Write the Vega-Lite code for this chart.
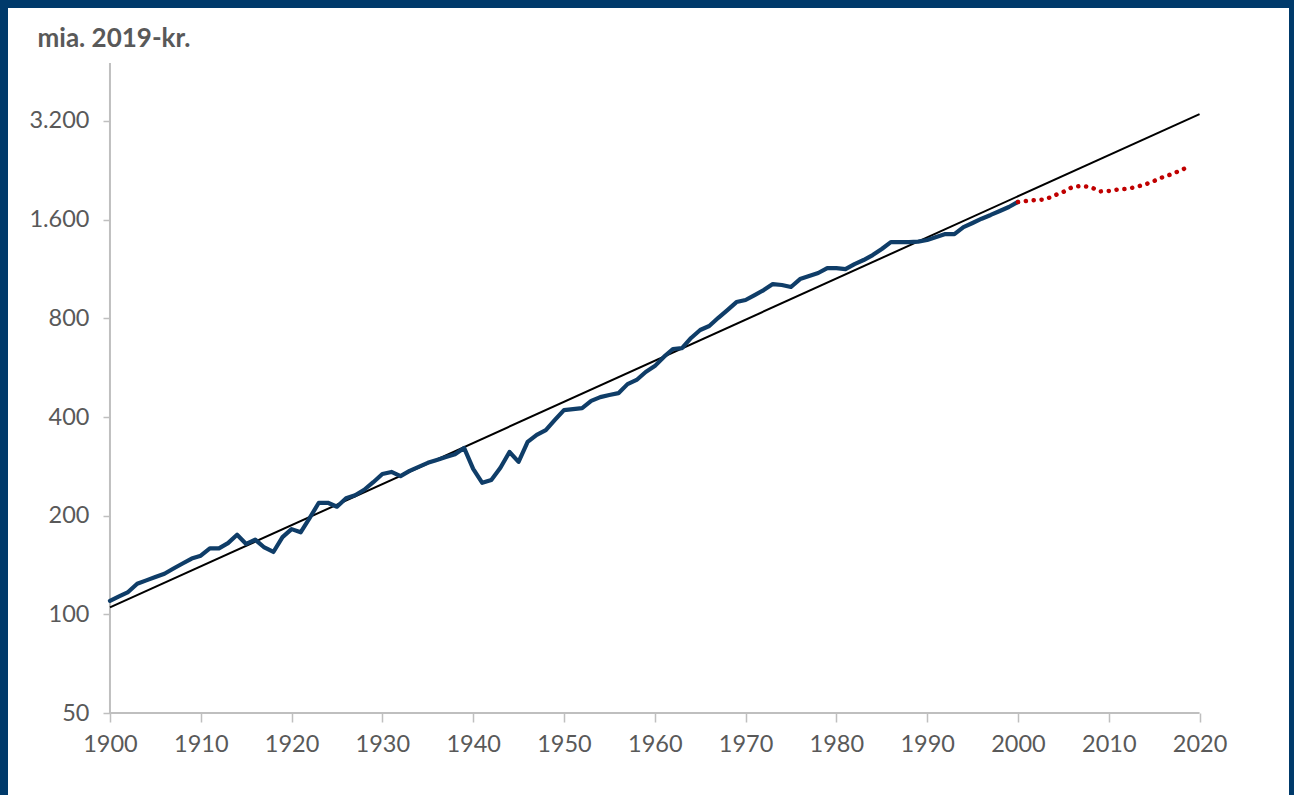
{
  "$schema": "https://vega.github.io/schema/vega-lite/v6.json",
  "width": 1281,
  "height": 787,
  "autosize": "none",
  "padding": {"left": 8, "top": 8, "right": 5, "bottom": 0},
  "background": "#003a6b",
  "config": {
    "font": "Lato",
    "view": {"fill": "white", "stroke": null}
  },
  "datasets": {
    "hist": [
      {"year":1900,"value":110},{"year":1901,"value":113.5},{"year":1902,"value":117},{"year":1903,"value":124},{"year":1904,"value":127},
      {"year":1905,"value":130},{"year":1906,"value":133},{"year":1907,"value":138},{"year":1908,"value":143},{"year":1909,"value":148},
      {"year":1910,"value":151},{"year":1911,"value":159},{"year":1912,"value":159},{"year":1913,"value":165},{"year":1914,"value":175},
      {"year":1915,"value":164},{"year":1916,"value":169},{"year":1917,"value":160},{"year":1918,"value":155},{"year":1919,"value":172},
      {"year":1920,"value":182},{"year":1921,"value":178},{"year":1922,"value":197},{"year":1923,"value":219},{"year":1924,"value":219},
      {"year":1925,"value":213},{"year":1926,"value":226},{"year":1927,"value":231},{"year":1928,"value":240},{"year":1929,"value":253},
      {"year":1930,"value":268},{"year":1931,"value":272},{"year":1932,"value":264},{"year":1933,"value":274},{"year":1934,"value":282},
      {"year":1935,"value":290},{"year":1936,"value":296},{"year":1937,"value":302},{"year":1938,"value":308},{"year":1939,"value":322},
      {"year":1940,"value":278},{"year":1941,"value":252},{"year":1942,"value":257},{"year":1943,"value":280},{"year":1944,"value":313},
      {"year":1945,"value":292},{"year":1946,"value":336},{"year":1947,"value":353},{"year":1948,"value":365},{"year":1949,"value":392},
      {"year":1950,"value":420},{"year":1951,"value":423},{"year":1952,"value":426},{"year":1953,"value":448},{"year":1954,"value":460},
      {"year":1955,"value":467},{"year":1956,"value":473},{"year":1957,"value":504},{"year":1958,"value":519},{"year":1959,"value":549},
      {"year":1960,"value":572},{"year":1961,"value":610},{"year":1962,"value":645},{"year":1963,"value":649},{"year":1964,"value":697},
      {"year":1965,"value":737},{"year":1966,"value":758},{"year":1967,"value":803},{"year":1968,"value":848},{"year":1969,"value":897},
      {"year":1970,"value":910},{"year":1971,"value":942},{"year":1972,"value":976},{"year":1973,"value":1018},{"year":1974,"value":1011},
      {"year":1975,"value":997},{"year":1976,"value":1054},{"year":1977,"value":1077},{"year":1978,"value":1100},{"year":1979,"value":1139},
      {"year":1980,"value":1139},{"year":1981,"value":1131},{"year":1982,"value":1171},{"year":1983,"value":1205},{"year":1984,"value":1248},
      {"year":1985,"value":1302},{"year":1986,"value":1367},{"year":1987,"value":1367},{"year":1988,"value":1367},{"year":1989,"value":1372},
      {"year":1990,"value":1387},{"year":1991,"value":1416},{"year":1992,"value":1446},{"year":1993,"value":1446},{"year":1994,"value":1519},
      {"year":1995,"value":1563},{"year":1996,"value":1611},{"year":1997,"value":1654},{"year":1998,"value":1701},{"year":1999,"value":1749},
      {"year":2000,"value":1812}
    ],
    "recent": [
      {"year":2000,"value":1812},{"year":2001,"value":1826},{"year":2002,"value":1838},{"year":2003,"value":1844},{"year":2004,"value":1896},
      {"year":2005,"value":1944},{"year":2006,"value":2013},{"year":2007,"value":2028},{"year":2008,"value":2013},{"year":2009,"value":1951},
      {"year":2010,"value":1957},{"year":2011,"value":1978},{"year":2012,"value":1985},{"year":2013,"value":2013},{"year":2014,"value":2049},
      {"year":2015,"value":2100},{"year":2016,"value":2160},{"year":2017,"value":2206},{"year":2018,"value":2269},{"year":2019,"value":2333}
    ],
    "trend": [
      {"year":1900,"value":105},{"year":2020,"value":3360}
    ],
    "xaxisline": [{"year":1900,"year2":2020,"value":50}],
    "yaxisline": [{"year":1900,"value":50,"value2":4810}]
  },
  "encoding": {
    "x": {
      "field": "year", "type": "quantitative",
      "scale": {"domain": [1888.77, 2029.85], "nice": false, "zero": false},
      "axis": {
        "title": null, "orient": "bottom", "offset": -82, "domain": false, "grid": false,
        "values": [1900,1910,1920,1930,1940,1950,1960,1970,1980,1990,2000,2010,2020],
        "format": "d", "tickColor": "#bfbfbf", "tickWidth": 1.5, "tickSize": 9,
        "labelFontSize": 23.5, "labelColor": "#595959", "labelPadding": 10, "labelFont": "Lato"
      }
    },
    "y": {
      "field": "value", "type": "quantitative",
      "scale": {"type": "log", "domain": [28.12, 7077], "nice": false, "zero": false},
      "axis": {
        "title": "mia. 2019-kr.", "orient": "left", "offset": -102, "domain": false, "grid": false,
        "values": [50,100,200,400,800,1600,3200],
        "labelExpr": "replace(format(datum.value, ','), ',', '.')",
        "tickColor": "#bfbfbf", "tickWidth": 1.5, "tickSize": 7,
        "labelFontSize": 23.5, "labelColor": "#595959", "labelPadding": 14, "labelFont": "Lato",
        "titleAngle": 0, "titleAlign": "left", "titleBaseline": "alphabetic",
        "titleX": -73, "titleY": 38, "titleFontSize": 26, "titleFontWeight": "bold",
        "titleColor": "#595959", "titleFont": "Lato"
      }
    }
  },
  "layer": [
    {
      "data": {"name": "xaxisline"},
      "mark": {"type": "rule", "color": "#bfbfbf", "strokeWidth": 2},
      "encoding": {"x2": {"field": "year2"}}
    },
    {
      "data": {"name": "yaxisline"},
      "mark": {"type": "rule", "color": "#bfbfbf", "strokeWidth": 2},
      "encoding": {"y2": {"field": "value2"}}
    },
    {
      "data": {"name": "trend"},
      "mark": {"type": "line", "color": "#000000", "strokeWidth": 2},
      "encoding": {}
    },
    {
      "data": {"name": "hist"},
      "mark": {"type": "line", "color": "#0f3d68", "strokeWidth": 4.2, "strokeJoin": "round", "strokeCap": "round"},
      "encoding": {}
    },
    {
      "data": {"name": "recent"},
      "mark": {"type": "line", "color": "#c00000", "strokeWidth": 4.5, "strokeDash": [0.1, 7.8], "strokeCap": "round"},
      "encoding": {}
    }
  ]
}
